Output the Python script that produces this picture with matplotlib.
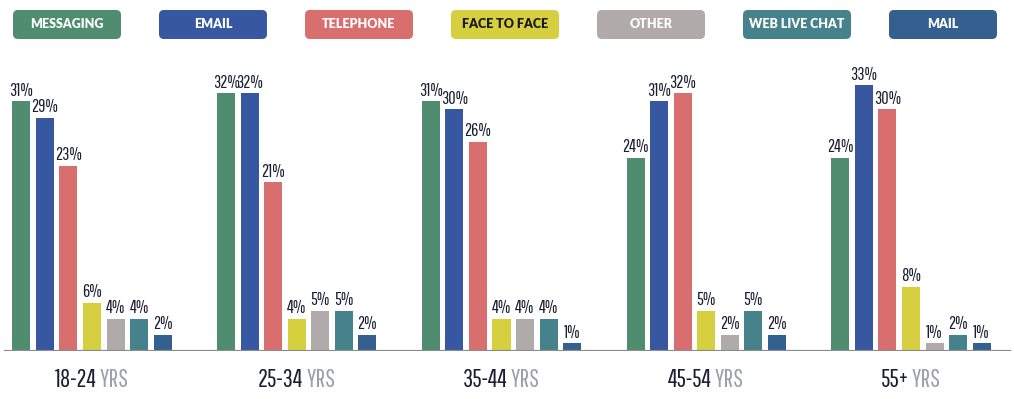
#!/usr/bin/env python3

import numpy as np
from matplotlib import pyplot as plt
from matplotlib.patches import FancyBboxPatch

groups = ["18-24", "25-34", "35-44", "45-54", "55+"]
channels = ["MESSAGING", "EMAIL", "TELEPHONE", "FACE TO FACE",
            "OTHER", "WEB LIVE CHAT", "MAIL"]

messaging = [31, 32, 31, 24, 24]
email = [29, 32, 30, 31, 33]
telephone = [23, 21, 26, 32, 30]
face_to_face = [6, 4, 4, 5, 8]
other = [4, 5, 4, 2, 1]
web_live_chat = [4, 5, 4, 5, 2]
mail = [2, 2, 1, 2, 1]

colors = ["#508d70", "#3757a0", "#d86e6e", "#d6cf40",
          "#b0abaa", "#46828b", "#33608f"]
legend_text_colors = ["white", "white", "white", "#1a1a1a",
                      "white", "white", "white"]

series = [messaging, email, telephone, face_to_face, other, web_live_chat, mail]

W, H = 1014, 399
fig = plt.figure(figsize=(W / 100, H / 100), dpi=100)

# pixel scale of the plot area
group_px = 204.75
pct_px = 8.05
first_center = 92
base_px = 48
ax = fig.add_axes([0, base_px / H, 1, 300 / H])
ax.set_xlim(-first_center / group_px, (W - first_center) / group_px)
ax.set_ylim(0, 300 / pct_px)
ax.axis("off")

num_font = ["Pathway Gothic One", "League Gothic", "DejaVu Sans"]
dark = "#1c1f33"

x = np.arange(len(groups))
step = 0.115
width = 0.088
for i, vals in enumerate(series):
    pos = x + (i - 3) * step
    ax.bar(pos, vals, width=width, color=colors[i], zorder=2)
    for px, v in zip(pos, vals):
        ax.text(px, v + 0.3, f"{v}%", ha="center", va="bottom",
                fontsize=13, family=num_font, color=dark)

ax.axhline(0, xmin=5 / W, xmax=1010 / W, color="#8c8c8c", lw=1.6, zorder=3)

# group labels: dark age range + grey "YRS"
labels = []
for i, g in enumerate(groups):
    t1 = ax.text(x[i], -29 / pct_px, g, ha="left", va="center",
                 fontsize=18, family=num_font, color=dark)
    t2 = ax.annotate("YRS", xy=(1, 0), xycoords=t1, xytext=(2, 0),
                     textcoords="offset points", va="bottom", ha="left",
                     fontsize=18, family=num_font, color="#9aa1ad")
    labels.append((t1, t2))

fig.canvas.draw()
r = fig.canvas.get_renderer()
for i, (t1, t2) in enumerate(labels):
    w = t1.get_window_extent(r).width + t2.get_window_extent(r).width + 3
    t1.set_x(x[i] - w / 2 / group_px)

# legend boxes across the top
lax = fig.add_axes([0, 0, 1, 1], zorder=-1)
lax.set_xlim(0, W)
lax.set_ylim(H, 0)
lax.axis("off")
for i, name in enumerate(channels):
    cx = 67 + 146 * i
    box = FancyBboxPatch((cx - 50, 14), 100, 21,
                         boxstyle="round,pad=4,rounding_size=5",
                         fc=colors[i], ec="none")
    lax.add_patch(box)
    lax.text(cx, 24.5, name, ha="center", va="center", fontsize=9,
             family="Lato", weight="heavy", color=legend_text_colors[i])

fig.savefig("out.png", dpi=100)
